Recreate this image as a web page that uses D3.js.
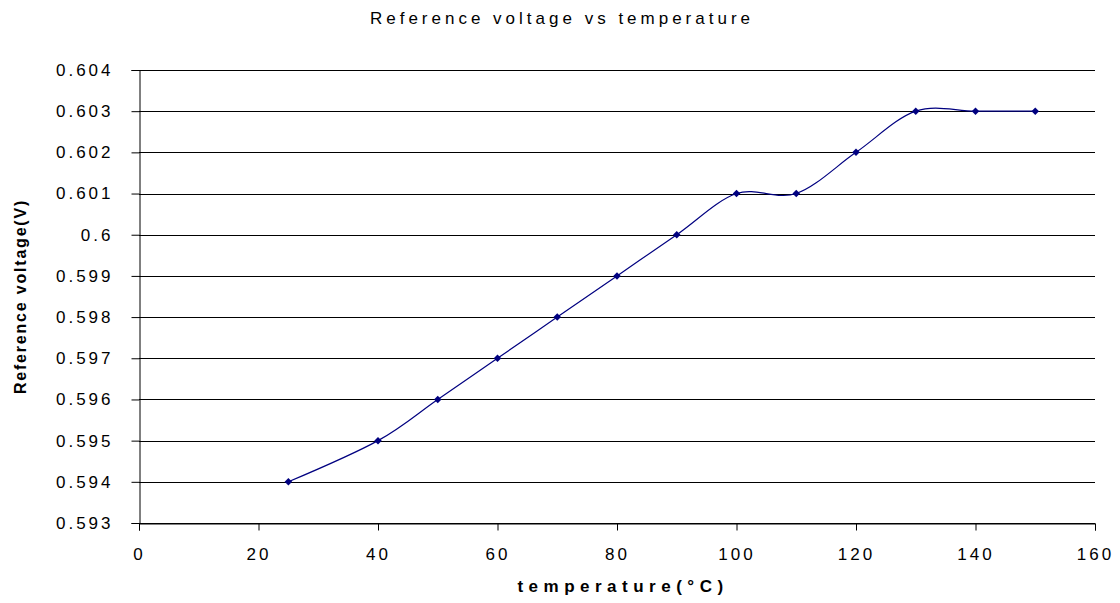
<!DOCTYPE html>
<html>
<head>
<meta charset="utf-8">
<script src="https://cdn.jsdelivr.net/npm/d3@7"></script>
<style>
  body { margin: 0; background: #fff; }
  text { font-family: "Liberation Sans", Arial, sans-serif; fill: #000; }
</style>
</head>
<body>
<div id="chart"></div>
<script>
// data
const temperatures = [25, 40, 50, 60, 70, 80, 90, 100, 110, 120, 130, 140, 150];
const voltages = [0.594, 0.595, 0.596, 0.597, 0.598, 0.599, 0.600, 0.601, 0.601, 0.602, 0.603, 0.603, 0.603];
const xTicks = [0, 20, 40, 60, 80, 100, 120, 140, 160];
const yTicks = [0.593, 0.594, 0.595, 0.596, 0.597, 0.598, 0.599, 0.6, 0.601, 0.602, 0.603, 0.604];

const width = 1120;
const height = 603;
const margin = { top: 70, right: 25, bottom: 80, left: 139 };

const svg = d3.select("#chart")
    .append("svg")
    .attr("width", width)
    .attr("height", height);

const x = d3.scaleLinear().domain([0, 160]).range([margin.left, width - margin.right]);
const y = d3.scaleLinear().domain([0.593, 0.604]).range([height - margin.bottom, margin.top]);

// gridlines
svg.append("g")
    .selectAll("line")
    .data(yTicks)
    .join("line")
    .attr("x1", margin.left)
    .attr("x2", width - margin.right)
    .attr("y1", d => Math.round(y(d)) + 0.5)
    .attr("y2", d => Math.round(y(d)) + 0.5)
    .attr("stroke", "#000")
    .attr("stroke-width", 1);

// y axis
const yAxis = svg.append("g")
    .attr("transform", `translate(${margin.left + 0.5},0)`)
    .call(d3.axisLeft(y).tickValues(yTicks).tickSize(8).tickPadding(18)
        .tickFormat(d => String(+d.toFixed(3))));
yAxis.select(".domain").attr("stroke", "#000");
yAxis.selectAll(".tick line").attr("stroke", "#000");
yAxis.selectAll("text")
    .style("font-size", "17px")
    .style("letter-spacing", "3px")
    .style("font-family", "Liberation Sans, Arial, sans-serif");

// x axis
const xAxis = svg.append("g")
    .attr("transform", `translate(0,${Math.round(y(0.593)) + 0.5})`)
    .call(d3.axisBottom(x).tickValues(xTicks).tickSize(7).tickPadding(17));
xAxis.select(".domain").attr("stroke", "#000");
xAxis.selectAll(".tick line").attr("stroke", "#000");
xAxis.selectAll("text")
    .style("font-size", "17px")
    .style("letter-spacing", "3px")
    .style("font-family", "Liberation Sans, Arial, sans-serif");

// smoothed line
const points = temperatures.map((t, i) => [t, voltages[i]]);
const line = d3.line()
    .x(d => x(d[0]))
    .y(d => y(d[1]))
    .curve(d3.curveCardinal.tension(0));

svg.append("path")
    .attr("d", line(points))
    .attr("fill", "none")
    .attr("stroke", "#000080")
    .attr("stroke-width", 1.2);

// diamond markers
svg.append("g")
    .selectAll("path")
    .data(points)
    .join("path")
    .attr("d", d3.symbol(d3.symbolSquare, 28))
    .attr("transform", d => `translate(${x(d[0])},${y(d[1])}) rotate(45)`)
    .attr("fill", "#000080");

// title
svg.append("text")
    .attr("x", width / 2 + 2)
    .attr("y", 24)
    .attr("text-anchor", "middle")
    .style("font-size", "17px")
    .style("letter-spacing", "4px")
    .text("Reference voltage vs temperature");

// axis labels
svg.append("text")
    .attr("x", (margin.left + width - margin.right) / 2 + 6)
    .attr("y", 592)
    .attr("text-anchor", "middle")
    .style("font-size", "17px")
    .style("font-weight", "bold")
    .style("letter-spacing", "5.5px")
    .text("temperature(°C)");

svg.append("text")
    .attr("transform", `translate(26,${(margin.top + height - margin.bottom) / 2}) rotate(-90)`)
    .attr("text-anchor", "middle")
    .style("font-size", "16px")
    .style("font-weight", "bold")
    .style("letter-spacing", "1.8px")
    .text("Reference voltage(V)");
</script>
</body>
</html>
